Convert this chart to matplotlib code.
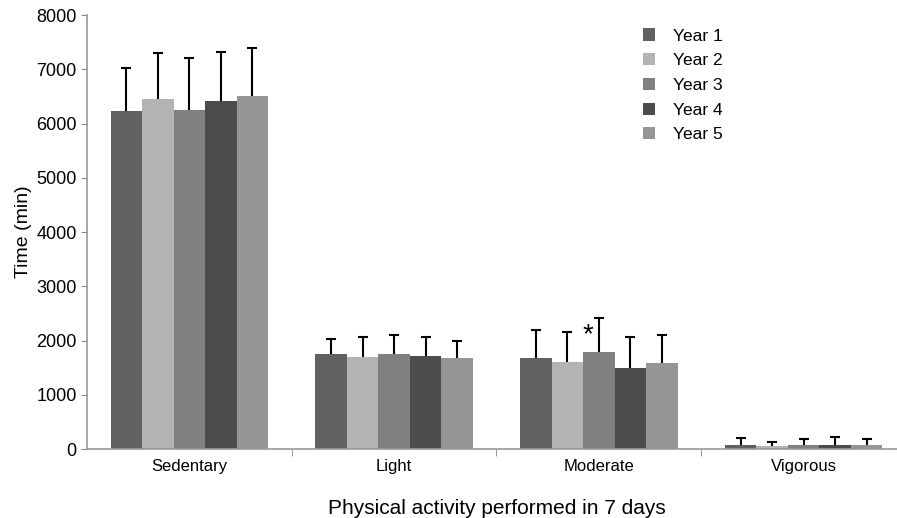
import numpy as np
import matplotlib.pyplot as plt

plt.rcParams['font.family'] = ['Liberation Sans', 'DejaVu Sans']

categories = ["Sedentary", "Light", "Moderate", "Vigorous"]
years = ["Year 1", "Year 2", "Year 3", "Year 4", "Year 5"]

# mean minutes per week, one list per year (Sedentary, Light, Moderate, Vigorous)
means = [
    [6230, 1750, 1680, 80],
    [6445, 1695, 1610, 55],
    [6255, 1760, 1785, 75],
    [6415, 1715, 1500, 80],
    [6505, 1680, 1590, 75],
]
# standard deviations
sds = [
    [790, 270, 515, 125],
    [850, 375, 540, 75],
    [950, 345, 625, 110],
    [895, 355, 560, 140],
    [890, 305, 505, 110],
]
colors = ["#616161", "#b3b3b3", "#808080", "#4c4c4c", "#959595"]

fig = plt.figure(figsize=(8.97, 5.18), dpi=100)
ax = fig.add_axes([0.097, 0.133, 0.913, 0.838])

x = np.arange(len(categories))
width = 0.154
for i in range(len(years)):
    pos = x + (i - 2) * width
    ax.bar(pos, means[i], width, color=colors[i], label=years[i], zorder=2)
    eb = ax.errorbar(pos, means[i], yerr=[np.zeros(len(categories)), sds[i]],
                     fmt="none", ecolor="black", elinewidth=1.5, capsize=3.5,
                     capthick=1.5, zorder=3)
    eb[1][0].set_visible(False)

# significance mark on Year 3, Moderate
ax.annotate("*", (x[2], means[2][2] + sds[2][2]), xytext=(-8, -17),
            textcoords="offset points", ha="center", fontsize=20)

ax.set_xlim(-0.5, len(categories) - 0.5)
ax.set_ylim(0, 8000)
ax.set_yticks(np.arange(0, 8001, 1000))
ax.set_xticks(x)
ax.set_xticklabels(categories, fontsize=12)
ax.set_xticks(np.arange(len(categories)) + 0.5, minor=True)
ax.tick_params(axis="x", which="major", length=0, pad=7)
ax.tick_params(axis="x", which="minor", length=5, color="#888888")
ax.tick_params(axis="y", labelsize=13, length=4, color="#888888")

for side in ["top", "right"]:
    ax.spines[side].set_visible(False)
for side in ["left", "bottom"]:
    ax.spines[side].set_color("#999999")
    ax.spines[side].set_linewidth(1.2)

ax.set_ylabel("Time (min)", fontsize=14, labelpad=3)
ax.set_xlabel("Physical activity performed in 7 days", fontsize=15, labelpad=18)

ax.legend(loc="upper left", bbox_to_anchor=(0.66, 1.005), frameon=False,
          fontsize=12.5, handlelength=0.7, handleheight=0.7, labelspacing=0.55,
          handletextpad=1.0)

fig.savefig("out.png", dpi=100)
